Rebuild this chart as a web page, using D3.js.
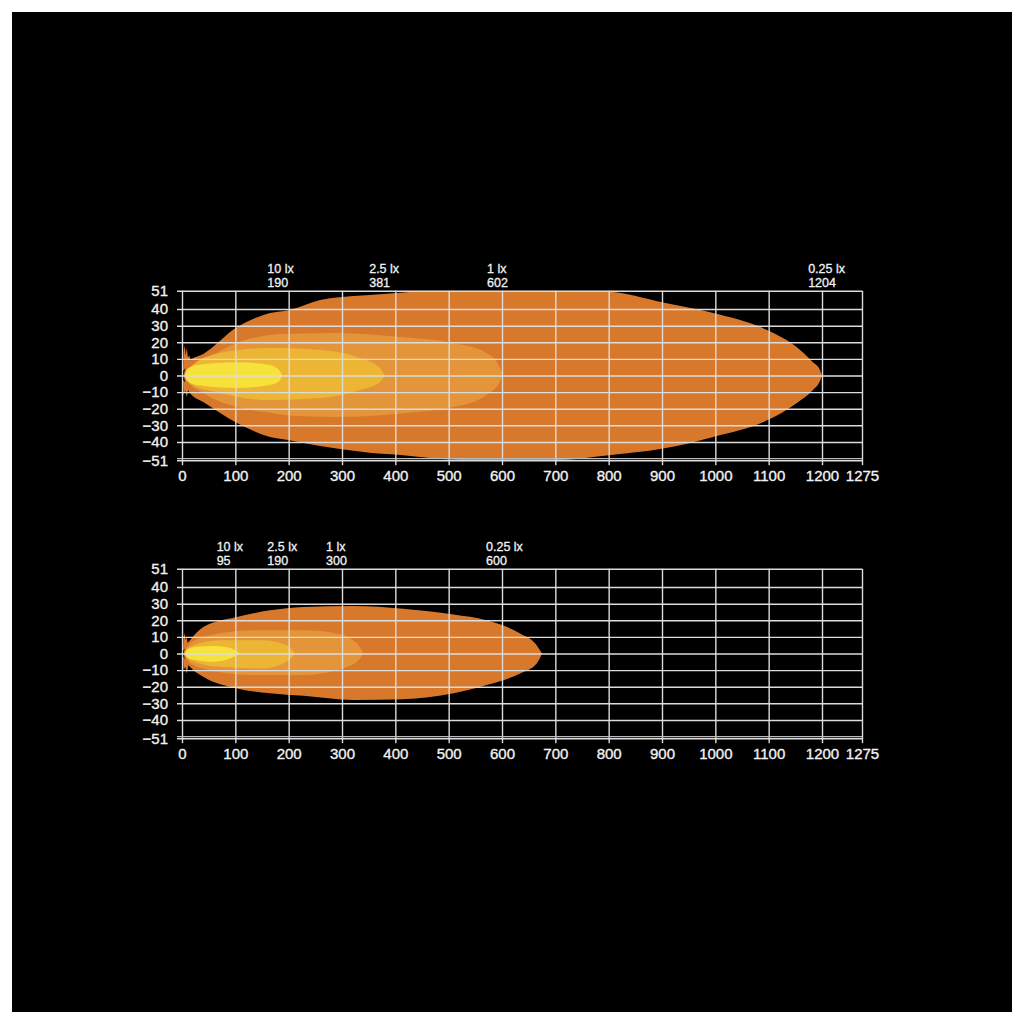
<!DOCTYPE html>
<html>
<head>
<meta charset="utf-8">
<script src="https://cdn.jsdelivr.net/npm/d3@7"></script>
<style>
  body { margin: 0; background: #fff; }
  text { font-family: "Liberation Sans", Arial, sans-serif; fill: #f2f2f2; }
</style>
</head>
<body>
<div id="chart"></div>
<script>
// distance (m) ticks and lateral (m) ticks
const xTicks = [0, 100, 200, 300, 400, 500, 600, 700, 800, 900, 1000, 1100, 1200, 1275];
const yTicks = [51, 40, 30, 20, 10, 0, -10, -20, -30, -40, -51];
const luxNames = ["10 lx", "2.5 lx", "1 lx", "0.25 lx"];
const topReach = [190, 381, 602, 1204];
const bottomReach = [95, 190, 300, 600];

// isolux contours: [distance, upper edge, lower edge]
const top025 = [[3, 0, 0], [6, 4, -4], [15, 9, -10.5], [40, 13, -16], [103, 29, -28.6], [165, 37.6, -37], [202, 39.5, -39],
    [259, 45.5, -42.5], [290, 47, -44], [352, 48.5, -46.5], [415, 50, -48], [460, 51, -49.5], [540, 51, -51],
    [700, 51, -51], [800, 50.5, -48], [902, 44, -44], [996, 37.6, -37], [1097, 27.4, -27], [1153, 17, -16.5],
    [1183, 8, -8.7], [1196, 3.5, -3.5], [1200, 0, 0]];
const top1 = [[5, 0, 0], [10, 3, -3], [40, 9, -10.5], [103, 19.6, -19], [165, 24.4, -22.5], [196, 25, -24], [290, 25.6, -25],
    [415, 23, -22.7], [509, 19.5, -19], [571, 13.5, -11.7], [594, 6, -5], [602, 0, 0]];
const top25 = [[5, 0, 0], [15, 5, -5], [71, 13.5, -10.5], [165, 16.6, -14.8], [259, 15.4, -13.6], [334, 10.5, -8.7],
    [371, 4.5, -4], [380, 0, 0]];
const top10 = [[5, 0, 0], [10, 4, -3.5], [28, 6.3, -5.7], [103, 8, -7.5], [165, 6.3, -5.7], [183, 3, -3], [188, 0, 0]];
const topTuftUp = [[2, 3], [3, 14], [5, 18], [7, 12], [9, 17], [11, 11], [14, 12], [16, 8], [9, 5]];
const topTuftDown = [[2, -3], [3, -12], [6, -9], [9, -13], [12, -8], [16, -9], [10, -5]];

const bot025 = [[3, 0, 0], [6, 4, -4], [15, 8, -8], [40, 16, -14], [103, 22, -21], [165, 26, -24], [228, 28, -25.5],
    [321, 28.6, -28], [415, 27, -27.5], [509, 23.5, -24], [571, 20, -19], [634, 12, -12], [665, 5, -6], [675, 0, 0]];
const bot1 = [[5, 0, 0], [10, 4, -4], [40, 10, -9], [134, 14, -13], [228, 14, -13], [290, 12, -10], [328, 6, -5], [340, 0, 0]];
const bot25 = [[5, 0, 0], [15, 4, -4], [71, 8, -8], [152, 8, -9], [196, 5, -5], [212, 0, 0]];
const bot10 = [[5, 0, 0], [10, 2.5, -2.5], [28, 4, -4], [59, 4.5, -5], [90, 3.3, -3], [109, 0, 0]];
const botTuftUp = [[2, 2], [3, 10], [5, 12], [7, 8], [9, 10], [11, 5], [6, 3]];
const botTuftDown = [[2, -2], [3, -10], [6, -8], [9, -12], [12, -7], [7, -4]];

const colors = ["#f6e23a", "#ecb634", "#e4953a", "#d8782b"];

const svg = d3.select("#chart")
    .append("svg")
    .attr("width", 1024)
    .attr("height", 1024);

svg.append("rect").attr("width", 1024).attr("height", 1024).attr("fill", "#fff");
svg.append("rect").attr("x", 12).attr("y", 12).attr("width", 1000).attr("height", 1000).attr("fill", "#000");

const left = 182;
const w = 680;
const h = 169.4;

const x = d3.scaleLinear().domain([0, 1275]).range([0, w]);
const y = d3.scaleLinear().domain([-51, 51]).range([h, 0]);

const area = d3.area()
    .x(d => x(d[0]))
    .y1(d => y(d[1]))
    .y0(d => y(d[2]))
    .curve(d3.curveMonotoneX);

function drawChart(top, id, contours, tufts, reach) {
    const g = svg.append("g").attr("transform", "translate(" + left + "," + top + ")");

    g.append("clipPath").attr("id", id)
        .append("rect").attr("width", w).attr("height", h);

    const shapes = g.append("g").attr("clip-path", "url(#" + id + ")");

    shapes.selectAll(".tuft")
        .data(tufts)
        .enter()
        .append("path")
        .attr("d", d3.line().x(d => x(d[0])).y(d => y(d[1])))
        .attr("fill", colors[3]);

    // biggest contour first
    shapes.selectAll(".beam")
        .data(contours.slice().reverse())
        .enter()
        .append("path")
        .attr("d", area)
        .attr("fill", (d, i) => colors[3 - i]);

    const xAxis = g.append("g")
        .attr("transform", "translate(0," + (h + 5) + ")")
        .call(d3.axisBottom(x).tickValues(xTicks).tickFormat(d3.format("d"))
            .tickSizeInner(-(h + 5)).tickSizeOuter(0).tickPadding(5));
    xAxis.select(".domain").remove();
    xAxis.selectAll("line").attr("stroke", "#dcdcdc").attr("stroke-width", 1.4);
    xAxis.selectAll("text").attr("font-size", 15).attr("fill", "#f2f2f2")
        .attr("stroke", "#f2f2f2").attr("stroke-width", 0.35);

    const yAxis = g.append("g")
        .attr("transform", "translate(-5,0)")
        .call(d3.axisLeft(y).tickValues(yTicks).tickSizeInner(-(w + 5)).tickSizeOuter(0).tickPadding(9));
    yAxis.select(".domain").remove();
    yAxis.selectAll("line").attr("stroke", "#dcdcdc").attr("stroke-width", 1.4);
    yAxis.selectAll("text").attr("font-size", 15).attr("fill", "#f2f2f2")
        .attr("stroke", "#f2f2f2").attr("stroke-width", 0.35);

    g.append("line")
        .attr("x1", -5).attr("x2", w)
        .attr("y1", y(-50)).attr("y2", y(-50))
        .attr("stroke", "#bdbdbd").attr("stroke-width", 1.2);

    // lux level names, with the reach in metres below
    g.selectAll(".lux")
        .data(reach)
        .enter()
        .append("text")
        .attr("font-size", 12.5)
        .attr("stroke", "#f2f2f2").attr("stroke-width", 0.3)
        .attr("x", d => x(d) - 16)
        .attr("y", -18)
        .text((d, i) => luxNames[i]);

    g.selectAll(".reach")
        .data(reach)
        .enter()
        .append("text")
        .attr("font-size", 12.5)
        .attr("stroke", "#f2f2f2").attr("stroke-width", 0.3)
        .attr("x", d => x(d) - 16)
        .attr("y", -3.5)
        .text(d => d);
}

drawChart(290.8, "clipTop", [top10, top25, top1, top025], [topTuftUp, topTuftDown], topReach);
drawChart(568.8, "clipBottom", [bot10, bot25, bot1, bot025], [botTuftUp, botTuftDown], bottomReach);
</script>
</body>
</html>
